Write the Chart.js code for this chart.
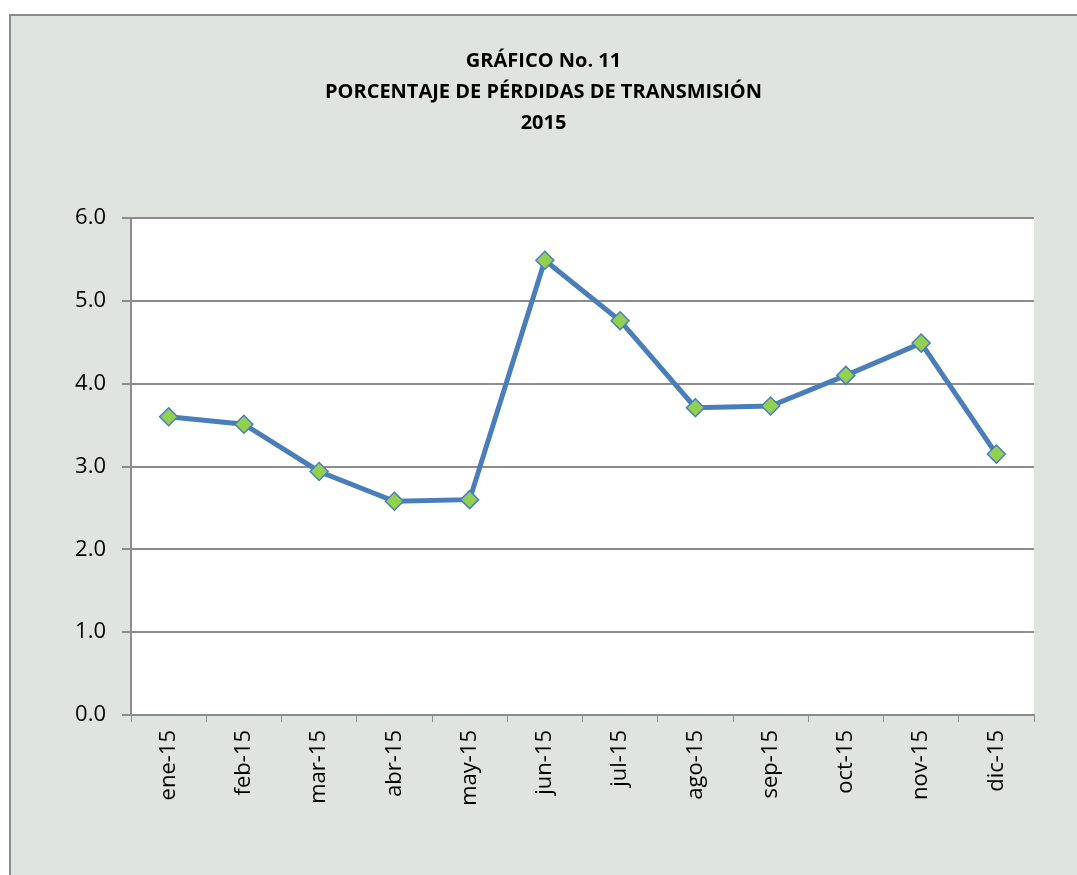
<!DOCTYPE html>
<html lang="es">
<head>
  <meta charset="UTF-8" />
  <title>Gráfico No. 11</title>
  <script src="https://cdn.jsdelivr.net/npm/chart.js"></script>
  <style>
    body { margin: 0; overflow: hidden; width: 1077px; height: 875px; background: #fff; }
    .marco { position: absolute; left: 9px; top: 14px; width: 1100px; height: 900px;
             border: 2px solid #8c8c8c; background: #e0e4e0; }
    #grafico { position: absolute; left: 0; top: 0; }
  </style>
</head>
<body>
  <div class="marco"></div>
  <canvas id="grafico" width="1077" height="875"></canvas>

  <script>
    const meses = ['ene-15', 'feb-15', 'mar-15', 'abr-15', 'may-15', 'jun-15',
                   'jul-15', 'ago-15', 'sep-15', 'oct-15', 'nov-15', 'dic-15'];
    const perdidas = [3.60, 3.51, 2.94, 2.58, 2.60, 5.49, 4.76, 3.71, 3.73, 4.10, 4.49, 3.15];
    const titulo = ['GRÁFICO No. 11', 'PORCENTAJE DE PÉRDIDAS DE TRANSMISIÓN', '2015'];

    const fuente = "'Open Sans', sans-serif";

    // fondo blanco del área de trazado
    const fondoArea = {
      id: 'fondoArea',
      beforeDraw(chart) {
        const { ctx, chartArea: a } = chart;
        ctx.save();
        ctx.fillStyle = '#ffffff';
        ctx.fillRect(a.left, a.top, a.right - a.left, a.bottom - a.top);
        ctx.restore();
      }
    };

    new Chart(document.getElementById('grafico'), {
      type: 'line',
      data: {
        labels: meses,
        datasets: [{
          data: perdidas,
          borderColor: '#4a7ebb',
          borderWidth: 5,
          tension: 0,
          pointStyle: 'rectRot',
          pointRadius: 9,
          pointBackgroundColor: '#92d050',
          pointBorderColor: '#4a7ebb',
          pointBorderWidth: 1.5
        }]
      },
      options: {
        responsive: false,
        animation: false,
        layout: { padding: { left: 10, right: 0, top: 0, bottom: 0 } },
        plugins: {
          legend: { display: false },
          tooltip: { enabled: false },
          title: {
            display: true,
            text: titulo,
            color: '#000',
            font: { family: fuente, size: 20, weight: 'bold', lineHeight: 31 / 20 },
            padding: { top: 46, bottom: 79 }
          }
        },
        scales: {
          x: {
            offset: true,
            grid: { offset: true, drawOnChartArea: false, drawTicks: true, tickLength: 7, color: '#8c8c8c' },
            border: { color: '#8c8c8c', width: 2 },
            ticks: { color: '#000', font: { family: fuente, size: 22 }, maxRotation: 90, minRotation: 90, padding: 8 },
            afterFit: s => { s.height = 160; }
          },
          y: {
            min: 0,
            max: 6,
            ticks: { stepSize: 1, color: '#000', font: { family: fuente, size: 22 }, padding: 16,
                     callback: v => v.toFixed(1) },
            grid: { color: '#8c8c8c', lineWidth: 2, tickLength: 9 },
            border: { color: '#8c8c8c', width: 2 },
            afterFit: s => { s.width = 121; }
          },
          derecha: {
            position: 'right',
            display: true,
            grid: { display: false },
            border: { display: false },
            ticks: { display: false },
            afterFit: s => { s.width = 43; }
          }
        }
      },
      plugins: [fondoArea]
    });
  </script>
</body>
</html>
